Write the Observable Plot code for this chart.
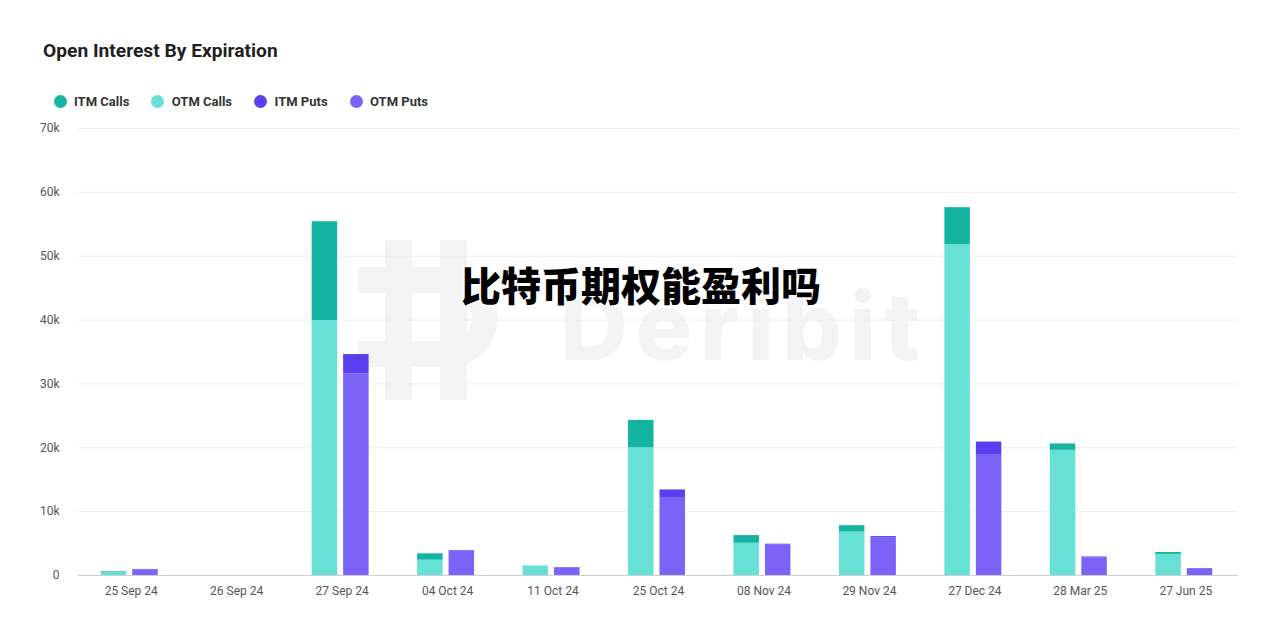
<!DOCTYPE html>
<html>
<head>
<meta charset="utf-8">
<script src="https://cdn.jsdelivr.net/npm/d3@7"></script>
<script src="https://cdn.jsdelivr.net/npm/@observablehq/plot@0.6"></script>
<style>
  html, body { margin: 0; padding: 0; background: #fff; }
  #wrap { position: relative; width: 1280px; height: 640px; overflow: hidden; font-family: Roboto, "Noto Sans", sans-serif; }
  #title { position: absolute; left: 43px; top: 39px; font-size: 19.2px; font-weight: 700; color: #1f1f1f; }
  #legend { position: absolute; left: 53.5px; top: 94px; display: flex; gap: 22px; font-size: 13px; font-weight: 700; color: #333; }
  #legend .item { display: flex; align-items: center; gap: 7.5px; }
  #legend .sw { width: 13px; height: 13px; border-radius: 50%; display: inline-block; }
  #wm { position: absolute; left: 0; top: 0; }
  #chart { position: absolute; left: 0; top: 0; }
  #overlay { position: absolute; left: 0; top: 262px; width: 1282px; text-align: center; font-family: "Noto Sans CJK SC", sans-serif; font-weight: 900; font-size: 40px; line-height: 44px; color: #000;
    text-shadow: 0 0 2px #fff, 1px 1px 0 #fff, -1px -1px 0 #fff, 1px -1px 0 #fff, -1px 1px 0 #fff, 0 0 6px #fff; }
</style>
</head>
<body>
<div id="wrap">
  <svg id="wm" width="1280" height="640">
    <g fill="#f3f3f3">
      <rect x="385" y="240" width="27" height="160"></rect>
      <rect x="440" y="240" width="27" height="160"></rect>
      <path d="M358 267 H448 A50 50 0 0 1 448 367 H358 V341 H448 A24 24 0 0 0 448 293 H358 Z"></path>
    </g>
    <text x="560" y="360" fill="#f3f3f3" font-family="Inter, Roboto, sans-serif" font-weight="800" font-size="94" textLength="360" lengthAdjust="spacing">Deribit</text>
  </svg>
  <div id="chart"></div>
  <div id="title">Open Interest By Expiration</div>
  <div id="legend"></div>
  <div id="overlay">比特币期权能盈利吗</div>
</div>
<script>
// ---- data (thousands of contracts) ----
const dates = ["25 Sep 24", "26 Sep 24", "27 Sep 24", "04 Oct 24", "11 Oct 24", "25 Oct 24", "08 Nov 24", "29 Nov 24", "27 Dec 24", "28 Mar 25", "27 Jun 25"];
const otmCalls = [0.5, 0, 39.9, 2.4, 1.4, 20.0, 5.05, 6.8, 51.8, 19.6, 3.3];
const itmCalls = [0.1, 0, 15.5, 1.0, 0.05, 4.3, 1.2, 1.0, 5.8, 1.0, 0.3];
const otmPuts  = [0.9, 0, 31.6, 3.8, 1.2, 12.1, 4.75, 5.85, 18.95, 2.75, 1.05];
const itmPuts  = [0.05, 0, 3.0, 0.1, 0.05, 1.3, 0.15, 0.25, 1.95, 0.15, 0.05];
const seriesNames = ["ITM Calls", "OTM Calls", "ITM Puts", "OTM Puts"];
const seriesColors = ["#13b5a2", "#67e1d5", "#5a3ff0", "#7c62f7"];
const yTicks = [0, 10000, 20000, 30000, 40000, 50000, 60000, 70000];

const rows = dates.flatMap((d, i) => [
  {date: d, side: "Calls", series: "OTM Calls", value: otmCalls[i] * 1000},
  {date: d, side: "Calls", series: "ITM Calls", value: itmCalls[i] * 1000},
  {date: d, side: "Puts", series: "OTM Puts", value: otmPuts[i] * 1000},
  {date: d, side: "Puts", series: "ITM Puts", value: itmPuts[i] * 1000}
]);

// legend
const legend = document.getElementById("legend");
seriesNames.forEach((s, i) => {
  const it = document.createElement("div");
  it.className = "item";
  it.innerHTML = `<span class="sw" style="background:${seriesColors[i]}"></span><span>${s}</span>`;
  legend.appendChild(it);
});

const chart = Plot.plot({
  width: 1280,
  height: 640,
  marginTop: 128,
  marginBottom: 65,
  marginLeft: 78,
  marginRight: 42,
  style: {background: "transparent", fontFamily: "Roboto, sans-serif", fontSize: "12px", color: "#555"},
  fx: {domain: dates, padding: 0, round: false, label: null, tickSize: 0, tickPadding: 11},
  x: {domain: ["Calls", "Puts"], round: false, paddingInner: 0.19, paddingOuter: 0.77, align: 0.469, axis: null},
  y: {domain: [0, 70000], label: null},
  color: {domain: seriesNames, range: seriesColors},
  marks: [
    Plot.gridY(yTicks, {stroke: "#ececec", strokeOpacity: 1}),
    Plot.axisY(yTicks, {tickSize: 0, tickPadding: 19, label: null, tickFormat: d => d === 0 ? "0" : d / 1000 + "k", fill: "#555"}),
    Plot.barY(rows, {fx: "date", x: "side", y: "value", fill: "series"}),
    Plot.ruleY([0], {stroke: "#cfcfcf"})
  ]
});
document.getElementById("chart").appendChild(chart);
</script>
</body>
</html>
